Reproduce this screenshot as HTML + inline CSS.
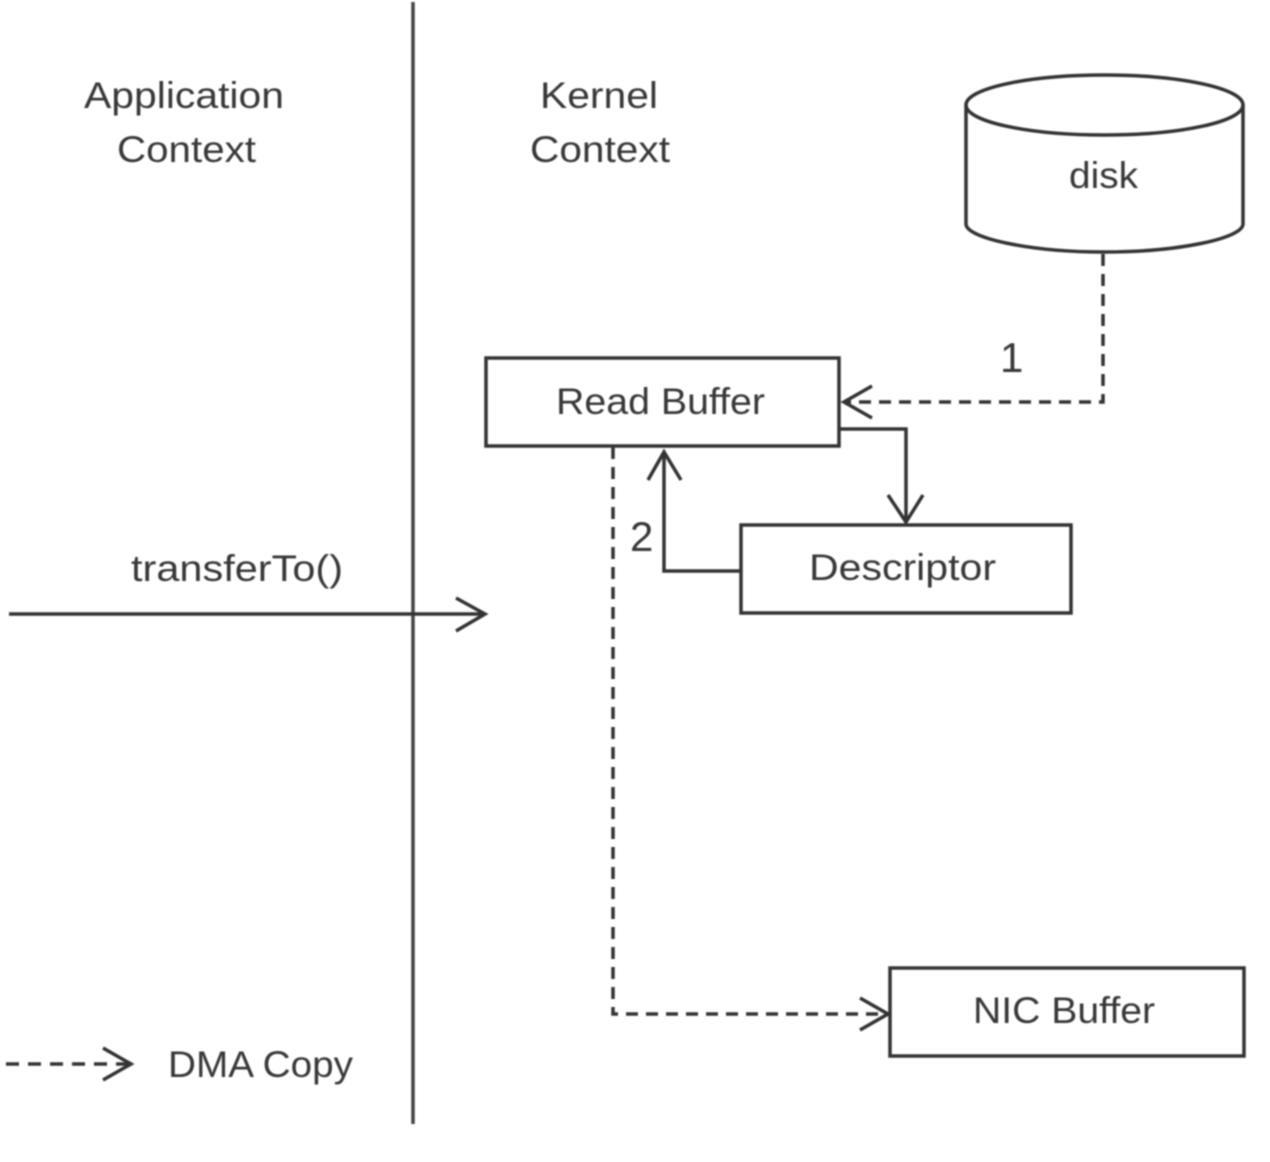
<!DOCTYPE html>
<html>
<head>
<meta charset="utf-8">
<style>
html,body{margin:0;padding:0;background:#fff;}
svg{display:block;filter:blur(0.8px);}
text{font-family:"Liberation Sans",sans-serif;fill:#383838;font-size:37px;text-anchor:start;}
</style>
</head>
<body>
<svg width="1270" height="1162" viewBox="0 0 1270 1162" xmlns="http://www.w3.org/2000/svg">
<g fill="none" stroke="#333" stroke-width="3.500">
<line x1="413" y1="2" x2="413" y2="1124" stroke-width="3.500" stroke="#444"/>
<!-- disk -->
<path d="M966 105 V224 C966 238 1030 252 1104 252 C1180 252 1243 238 1243 224 V105"/>
<ellipse cx="1104.500" cy="105" rx="138.500" ry="30"/>
<!-- boxes -->
<rect x="486" y="358" width="353" height="88"/>
<rect x="741" y="525" width="330" height="88"/>
<rect x="890" y="968" width="354" height="88"/>
<!-- 1 -->
<path d="M1103 254 V402 H846" stroke-dasharray="12 8"/>
<path d="M872 386 L844 402 L872 418"/>
<!-- descriptor arrow -->
<path d="M839 429 H906 V522"/>
<path d="M888 495 L906 522 L923 495"/>
<!-- 2 -->
<path d="M741 571 H664 V452"/>
<path d="M648 480 L664 452 L681 480"/>
<!-- transferTo -->
<line x1="9" y1="614" x2="484" y2="614"/>
<path d="M456 598 L485 614 L456 631"/>
<!-- DMA -->
<path d="M613 447 V1014 H886" stroke-dasharray="12 8"/>
<path d="M860 998 L888 1014 L860 1030"/>
<!-- legend -->
<line x1="6" y1="1064" x2="128" y2="1064" stroke-dasharray="13 9"/>
<path d="M103 1048 L131 1064 L103 1080"/>
</g>
<text x="84" y="108" textLength="200" lengthAdjust="spacingAndGlyphs">Application</text>
<text x="117" y="162" textLength="139" lengthAdjust="spacingAndGlyphs">Context</text>
<text x="540" y="108" textLength="118" lengthAdjust="spacingAndGlyphs">Kernel</text>
<text x="530" y="162" textLength="140" lengthAdjust="spacingAndGlyphs">Context</text>
<text x="1069" y="188" textLength="69" lengthAdjust="spacingAndGlyphs">disk</text>
<text x="556" y="414" textLength="209" lengthAdjust="spacingAndGlyphs">Read Buffer</text>
<text x="809" y="580" textLength="187" lengthAdjust="spacingAndGlyphs">Descriptor</text>
<text x="973" y="1023" textLength="182" lengthAdjust="spacingAndGlyphs">NIC Buffer</text>
<text x="131" y="581" textLength="212" lengthAdjust="spacingAndGlyphs">transferTo()</text>
<text x="168" y="1077" textLength="185" lengthAdjust="spacingAndGlyphs">DMA Copy</text>
<text x="1000" y="372" style="font-size:42px">1</text>
<text x="630" y="551" style="font-size:42px">2</text>
</svg>
</body>
</html>
